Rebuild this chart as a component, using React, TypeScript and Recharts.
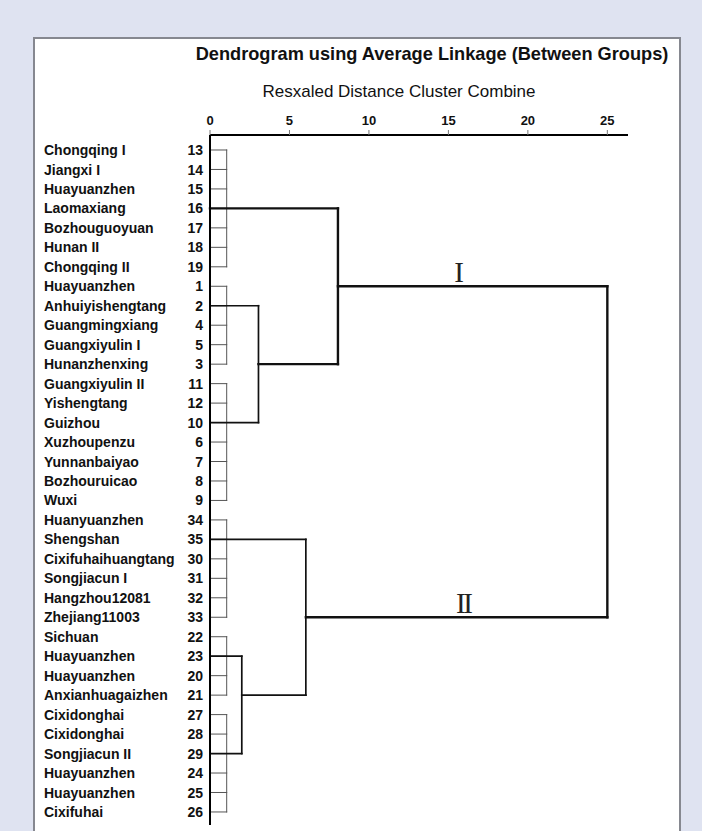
import React from 'react';
import { ComposedChart, XAxis, YAxis, ReferenceLine, ReferenceDot } from 'recharts';

// leaves, top to bottom, as they appear in the dendrogram
const caseNames = [
  'Chongqing I', 'Jiangxi I', 'Huayuanzhen', 'Laomaxiang', 'Bozhouguoyuan', 'Hunan II', 'Chongqing II',
  'Huayuanzhen', 'Anhuiyishengtang', 'Guangmingxiang', 'Guangxiyulin I', 'Hunanzhenxing',
  'Guangxiyulin II', 'Yishengtang', 'Guizhou', 'Xuzhoupenzu', 'Yunnanbaiyao', 'Bozhouruicao', 'Wuxi',
  'Huanyuanzhen', 'Shengshan', 'Cixifuhaihuangtang', 'Songjiacun I', 'Hangzhou12081', 'Zhejiang11003',
  'Sichuan', 'Huayuanzhen', 'Huayuanzhen', 'Anxianhuagaizhen',
  'Cixidonghai', 'Cixidonghai', 'Songjiacun II', 'Huayuanzhen', 'Huayuanzhen', 'Cixifuhai',
];
const caseIds = [
  13, 14, 15, 16, 17, 18, 19, 1, 2, 4, 5, 3, 11, 12, 10, 6, 7, 8, 9,
  34, 35, 30, 31, 32, 33, 22, 23, 20, 21, 27, 28, 29, 24, 25, 26,
];

const distanceTicks = [0, 5, 10, 15, 20, 25];

// groups of leaves that combine at the first step; anchor = row the group's branch leaves from
const leafJoinDistance = 1.05;
const leafGroups = [
  { first: 0, last: 6, anchor: 3 },
  { first: 7, last: 11, anchor: 8 },
  { first: 12, last: 18, anchor: 14 },
  { first: 19, last: 24, anchor: 20 },
  { first: 25, last: 28, anchor: 26 },
  { first: 29, last: 34, anchor: 31 },
];

// later merges; node ids 0-5 are the leaf groups, each merge adds the next id
const merges = [
  { left: 1, right: 2, distance: 3.05 },
  { left: 0, right: 6, distance: 8.05 },
  { left: 4, right: 5, distance: 2.0 },
  { left: 3, right: 8, distance: 6.03 },
  { left: 7, right: 9, distance: 25.0 },
];

const clusterMarks = [
  { label: 'I', distance: 15.67, row: 7 },
  { label: 'II', distance: 15.93, row: 24 },
];

type Seg = { x1: number; y1: number; x2: number; y2: number; kind: 'leaf' | 'low' | 'high' };

function buildSegments(): Seg[] {
  const segs: Seg[] = [];
  const nodes = leafGroups.map((g) => ({ row: g.anchor, distance: leafJoinDistance, leaf: true }));
  leafGroups.forEach((g) => {
    for (let r = g.first; r <= g.last; r++) {
      segs.push({ x1: 0, y1: r, x2: leafJoinDistance, y2: r, kind: 'leaf' });
    }
    segs.push({ x1: leafJoinDistance, y1: g.first, x2: leafJoinDistance, y2: g.last, kind: 'leaf' });
  });
  merges.forEach((m) => {
    const a = nodes[m.left];
    const b = nodes[m.right];
    const kind = m.distance >= 7 ? 'high' : 'low';
    [a, b].forEach((n) => {
      segs.push({ x1: n.leaf ? 0 : n.distance, y1: n.row, x2: m.distance, y2: n.row, kind });
    });
    segs.push({ x1: m.distance, y1: a.row, x2: m.distance, y2: b.row, kind });
    nodes.push({ row: Math.floor((a.row + b.row) / 2), distance: m.distance, leaf: false });
  });
  return segs;
}

const segments = buildSegments();
const rows = caseIds.map((_, i) => i);
const chartData = rows.map((r) => ({ row: r, join: leafJoinDistance }));

const FONT = '"Liberation Sans", Arial, sans-serif';

function CaseTick(props: any) {
  const { x, y, payload } = props;
  const i = payload.value;
  return (
    <g>
      <text x={x - 159} y={y} dy="0.36em" textAnchor="start" fontFamily={FONT} fontSize={14} fontWeight="bold" fill="#111">
        {caseNames[i]}
      </text>
      <text x={x} y={y} dy="0.36em" textAnchor="end" fontFamily={FONT} fontSize={14} fontWeight="bold" fill="#111">
        {caseIds[i]}
      </text>
    </g>
  );
}

const strokeFor = { leaf: '#555', low: '#111', high: '#111' };
const widthFor = { leaf: 1, low: 1.7, high: 2.4 };

export default function App() {
  return (
    <div style={{ position: 'absolute', left: 0, top: 0, width: 702, height: 831, background: '#dfe3f1', overflow: 'hidden' }}>
      <div
        style={{
          position: 'absolute',
          left: 33,
          top: 37,
          width: 644,
          height: 900,
          background: '#fff',
          border: '2px solid #868890',
        }}
      />
      <div style={{ position: 'absolute', left: 0, top: 0 }}>
        <ComposedChart width={702} height={831} data={chartData} margin={{ top: 105, right: 74, bottom: 6, left: 40 }}>
          <XAxis
            xAxisId={0}
            dataKey="join"
            orientation="top"
            type="number"
            domain={[0, 26.3]}
            allowDataOverflow
            ticks={distanceTicks}
            interval={0}
            height={30}
            tickSize={5}
            tickMargin={5}
            tickLine={{ stroke: '#777' }}
            axisLine={{ stroke: '#000', strokeWidth: 2 }}
            tick={{ fontSize: 13, fontWeight: 'bold', fill: '#111', fontFamily: FONT }}
          />
          <YAxis
            yAxisId={0}
            dataKey="row"
            type="number"
            domain={[-0.77, 34.67]}
            allowDataOverflow
            reversed
            ticks={rows}
            interval={0}
            width={170}
            tickSize={0}
            tickMargin={7}
            tickLine={false}
            axisLine={{ stroke: '#000', strokeWidth: 2 }}
            tick={<CaseTick />}
          />
          {segments.map((s, i) => (
            <ReferenceLine
              key={i}
              segment={[{ x: s.x1, y: s.y1 }, { x: s.x2, y: s.y2 }]}
              stroke={strokeFor[s.kind]}
              strokeWidth={widthFor[s.kind]}
              strokeLinecap="square"
              ifOverflow="visible"
            />
          ))}
          {clusterMarks.map((m) => (
            <ReferenceDot
              key={m.label}
              x={m.distance}
              y={m.row}
              r={0}
              fill="none"
              stroke="none"
              ifOverflow="visible"
              label={{
                value: m.label,
                position: 'top',
                offset: 4,
                fontFamily: '"Liberation Serif", "Times New Roman", serif',
                fontSize: 29,
                letterSpacing: m.label.length > 1 ? -2.5 : 0,
                fill: '#222',
              }}
            />
          ))}
        </ComposedChart>
      </div>
      <svg width={702} height={120} style={{ position: 'absolute', left: 0, top: 0 }}>
        <text x={432} y={60} textAnchor="middle" fontFamily={FONT} fontSize={18.2} fontWeight="bold" fill="#111">
          Dendrogram using Average Linkage (Between Groups)
        </text>
        <text x={399} y={97} textAnchor="middle" fontFamily={FONT} fontSize={17} fill="#111">
          Resxaled Distance Cluster Combine
        </text>
      </svg>
    </div>
  );
}
